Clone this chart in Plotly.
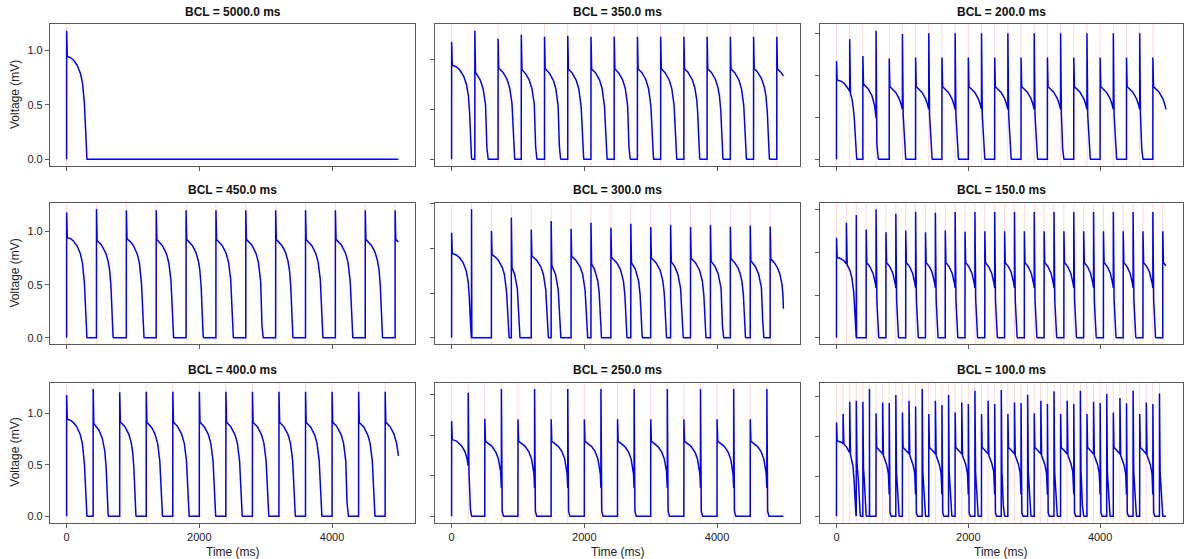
import numpy as np
import plotly.graph_objects as go

T_END = 5000.0

# ---- master action-potential shape, read from the BCL = 5000 ms trace ----
master_slow_t = [0, 40, 80, 120, 150, 180, 200, 220, 240, 255, 268]
master_slow_v = [0.945, 0.94, 0.925, 0.90, 0.875, 0.84, 0.81, 0.77, 0.71, 0.64, 0.56]
collapse_t = [0, 8, 14, 20, 27, 35, 45]
collapse_v = [0.56, 0.45, 0.30, 0.15, 0.05, 0.01, 0.0]

# ---- panels (row-major) ----
panel_bcl = [5000, 350, 200, 450, 300, 150, 400, 250, 100]

# spike tops, value after each stimulus (0 = no new AP), AP duration (ms)
peaks_5000 = [1.18]
plateau_5000 = [0.945]
apd_5000 = [310]

peaks_350 = [1.18, 1.29, 1.21, 1.25, 1.23, 1.24, 1.23, 1.23, 1.23, 1.23, 1.23, 1.23, 1.23, 1.23, 1.23]
plateau_350 = [0.945, 0.88, 0.92, 0.905, 0.915, 0.91, 0.913, 0.912, 0.913, 0.913, 0.913, 0.913, 0.913, 0.913, 0.913]
apd_350 = [310, 205, 255, 240, 248, 245, 247, 246, 246, 246, 246, 246, 246, 246, 246]

peaks_200 = [1.17, 1.43, 1.23, 1.53, 1.20, 1.49, 1.21, 1.50, 1.21, 1.50, 1.21, 1.50, 1.21,
             1.50, 1.21, 1.50, 1.21, 1.50, 1.21, 1.50, 1.21, 1.50, 1.21, 1.50, 1.21]
plateau_200 = [0.945, 0, 0.90, 0, 0.87, 0, 0.87, 0, 0.87, 0, 0.87, 0, 0.87,
               0, 0.87, 0, 0.87, 0, 0.87, 0, 0.87, 0, 0.87, 0, 0.87]
apd_200 = [310, 0, 240, 0, 255, 0, 255, 0, 255, 0, 255, 0, 255,
           0, 255, 0, 255, 0, 255, 0, 255, 0, 255, 0, 255]

peaks_450 = [1.18, 1.21, 1.20, 1.20, 1.20, 1.20, 1.20, 1.20, 1.20, 1.20, 1.20, 1.20]
plateau_450 = [0.945, 0.92, 0.934, 0.927, 0.928, 0.928, 0.928, 0.928, 0.928, 0.928, 0.928, 0.928]
apd_450 = [310, 258, 270, 266, 267, 267, 267, 267, 267, 267, 267, 267]

peaks_300 = [1.176, 1.44, 1.195, 1.345, 1.213, 1.307, 1.22, 1.288, 1.232, 1.277, 1.24,
             1.262, 1.24, 1.262, 1.243, 1.258, 1.247]
plateau_300 = [0.945, 0, 0.933, 0.80, 0.92, 0.82, 0.914, 0.835, 0.905, 0.85, 0.90,
               0.86, 0.895, 0.865, 0.89, 0.87, 0.888]
apd_300 = [305, 0, 270, 135, 262, 150, 255, 165, 250, 180, 245,
           195, 240, 205, 236, 214, 232]

peaks_150 = [1.174, 1.35, 1.44, 1.27, 1.51, 1.24, 1.457, 1.26, 1.48, 1.24, 1.468, 1.26,
             1.476, 1.245, 1.476, 1.25, 1.476, 1.25, 1.476, 1.25, 1.476, 1.25, 1.476, 1.25,
             1.476, 1.25, 1.476, 1.25, 1.476, 1.25, 1.476, 1.25, 1.476, 1.25]
plateau_150 = [0.945, 0, 0, 0.887, 0, 0.89, 0, 0.89, 0, 0.89, 0, 0.89,
               0, 0.89, 0, 0.89, 0, 0.89, 0, 0.89, 0, 0.89, 0, 0.89,
               0, 0.89, 0, 0.89, 0, 0.89, 0, 0.89, 0, 0.89]
apd_150 = [305, 0, 0, 200, 0, 200, 0, 200, 0, 200, 0, 200,
           0, 200, 0, 200, 0, 200, 0, 200, 0, 200, 0, 200,
           0, 200, 0, 200, 0, 200, 0, 200, 0, 200]

peaks_400 = [1.178, 1.236, 1.204, 1.21, 1.21, 1.21, 1.21, 1.21, 1.21, 1.21, 1.21, 1.21, 1.21]
plateau_400 = [0.945, 0.906, 0.922, 0.919, 0.919, 0.919, 0.919, 0.919, 0.919, 0.919, 0.919, 0.919, 0.919]
apd_400 = [310, 235, 252, 248, 250, 250, 250, 250, 250, 250, 250, 250, 250]

peaks_250 = [1.174, 1.52, 1.20, 1.566, 1.195, 1.566, 1.195, 1.566, 1.195, 1.566,
             1.195, 1.566, 1.195, 1.566, 1.195, 1.566, 1.195, 1.566, 1.195, 1.566]
plateau_250 = [0.945, 0, 0.927, 0, 0.927, 0, 0.927, 0, 0.927, 0,
               0.927, 0, 0.927, 0, 0.927, 0, 0.927, 0, 0.927, 0]
apd_250 = [305, 0, 283, 0, 283, 0, 283, 0, 283, 0,
           283, 0, 283, 0, 283, 0, 283, 0, 283, 0]

peaks_100 = [1.175, 1.279, 1.433, 1.446, 1.433, 1.592,
             1.29, 1.425, 1.417, 1.517,
             1.30, 1.446, 1.375, 1.592,
             1.279, 1.446, 1.392, 1.517,
             1.30, 1.425, 1.404, 1.571,
             1.279, 1.446, 1.404, 1.579,
             1.279, 1.425, 1.417, 1.521,
             1.288, 1.446, 1.404, 1.563,
             1.279, 1.446, 1.404, 1.571,
             1.279, 1.433, 1.417, 1.529,
             1.30, 1.479, 1.413, 1.571,
             1.279, 1.425, 1.404, 1.538]
plateau_100 = [0.945, 0, 0, 0.70, 0.65, 0,
               0.87, 0, 0, 0.68, 0.87, 0, 0, 0.68, 0.87, 0, 0, 0.68, 0.87, 0, 0, 0.68,
               0.87, 0, 0, 0.68, 0.87, 0, 0, 0.68, 0.87, 0, 0, 0.68, 0.87, 0, 0, 0.68,
               0.87, 0, 0, 0.68, 0.87, 0, 0, 0.68, 0.87, 0, 0, 0.68]
apd_100 = [305, 0, 0, 70, 60, 0,
           230, 0, 0, 55, 230, 0, 0, 55, 230, 0, 0, 55, 230, 0, 0, 55,
           230, 0, 0, 55, 230, 0, 0, 55, 230, 0, 0, 55, 230, 0, 0, 55,
           230, 0, 0, 55, 230, 0, 0, 55, 230, 0, 0, 55]

panel_data = {
    5000: (peaks_5000, plateau_5000, apd_5000),
    350: (peaks_350, plateau_350, apd_350),
    200: (peaks_200, plateau_200, apd_200),
    450: (peaks_450, plateau_450, apd_450),
    300: (peaks_300, plateau_300, apd_300),
    150: (peaks_150, plateau_150, apd_150),
    400: (peaks_400, plateau_400, apd_400),
    250: (peaks_250, plateau_250, apd_250),
    100: (peaks_100, plateau_100, apd_100),
}

ms_t = np.array(master_slow_t, float)
ms_v = np.array(master_slow_v, float)
cl_t = np.array(collapse_t, float)
cl_v = np.array(collapse_v, float)


def seg_value(tau, p, d):
    tau = np.atleast_1d(np.asarray(tau, float))
    if p > cl_v[0]:
        phi0 = np.interp(p, ms_v[::-1], ms_t[::-1])
        ds = max(d - cl_t[-1], 1.0)
        span = ms_t[-1] - phi0
        slow = np.interp(phi0 + np.clip(tau, 0, ds) / ds * span, ms_t, ms_v)
        fast = np.interp(tau - ds, cl_t, cl_v)
        out = np.where(tau < ds, slow, fast)
    else:
        c0 = np.interp(p, cl_v[::-1], cl_t[::-1])
        span = cl_t[-1] - c0
        out = np.interp(c0 + tau / d * span, cl_t, cl_v)
    return np.where(tau >= d, 0.0, out)


def build_trace(bcl, peaks, plateaus, apds):
    n = len(peaks)
    stims = [k * bcl for k in range(n)]
    xs, ys = [], []
    seg = None

    def val(t):
        if seg is None:
            return 0.0
        t0, p, d = seg
        return float(seg_value(t - t0, p, d)[0])

    for k in range(n):
        tk = stims[k]
        vb = val(tk)
        if plateaus[k] > 0:
            seg = (tk, plateaus[k], apds[k])
        t_next = stims[k + 1] if k + 1 < n else T_END
        t0, p, d = seg
        xs += [tk, tk + 0.6]
        ys += [vb, peaks[k]]
        t_stop = min(t_next, max(t0 + d, tk + 2.5))
        ts = np.arange(tk + 2.5, t_stop, 2.0)
        ts = np.append(ts, t_stop)
        vs = seg_value(ts - t0, p, d)
        xs += ts.tolist()
        ys += vs.tolist()
        if k == n - 1 and t_stop < T_END:
            xs.append(T_END)
            ys.append(0.0)
    return xs, ys, stims


W, H = 1184, 559
col_px = [(50, 415), (435, 800), (820, 1182.5)]
row_px = [(24.3, 165.7), (202.7, 344.3), (382.7, 522.7)]

FONT = "Liberation Sans, Arial, sans-serif"
FRAME = "#5a5a5a"

fig = go.Figure()
layout = dict(
    width=W, height=H, margin=dict(l=0, r=0, t=0, b=0),
    paper_bgcolor="white", plot_bgcolor="white", showlegend=False,
    font=dict(family=FONT, size=11, color="#222222"),
)
shapes = []
annotations = []

for i, bcl in enumerate(panel_bcl):
    r, c = divmod(i, 3)
    ax = i + 1
    xname = "x" if ax == 1 else f"x{ax}"
    yname = "y" if ax == 1 else f"y{ax}"
    peaks, plateaus, apds = panel_data[bcl]
    xs, ys, stims = build_trace(bcl, peaks, plateaus, apds)

    fig.add_trace(go.Scatter(
        x=xs, y=ys, mode="lines", xaxis=xname, yaxis=yname,
        line=dict(color="rgb(0,0,255)", width=1.5), hoverinfo="skip",
    ))
    for t in stims:
        shapes.append(dict(
            type="line", xref=xname, yref=f"{yname} domain",
            x0=t, x1=t, y0=0, y1=1, layer="below",
            line=dict(color="rgba(255,0,0,0.16)", width=1),
        ))

    vmax = max(ys)
    vmin = min(ys)
    pad = 0.05 * (vmax - vmin)
    x0p, x1p = col_px[c]
    ytp, ybp = row_px[r]
    xdom = [x0p / W, x1p / W]
    ydom = [1 - ybp / H, 1 - ytp / H]

    layout["xaxis" if ax == 1 else f"xaxis{ax}"] = dict(
        domain=xdom, anchor=yname, range=[-0.05 * T_END, 1.05 * T_END],
        tickvals=[0, 2000, 4000], ticktext=["0", "2000", "4000"] if r == 2 else ["", "", ""],
        ticks="outside", ticklen=4, tickwidth=1, tickcolor=FRAME,
        showline=True, mirror=True, linecolor=FRAME, linewidth=1.2,
        showgrid=False, zeroline=False, tickfont=dict(size=11, color="#222222"),
        fixedrange=True,
    )
    layout["yaxis" if ax == 1 else f"yaxis{ax}"] = dict(
        domain=ydom, anchor=xname, range=[vmin - pad, vmax + pad],
        tickvals=[0, 0.5, 1.0, 1.5],
        ticktext=["0.0", "0.5", "1.0", "1.5"] if c == 0 else ["", "", "", ""],
        ticks="outside", ticklen=4, tickwidth=1, tickcolor=FRAME,
        showline=True, mirror=True, linecolor=FRAME, linewidth=1.2,
        showgrid=False, zeroline=False, tickfont=dict(size=11, color="#222222"),
        fixedrange=True,
    )
    annotations.append(dict(
        text=f"<b>BCL = {float(bcl):.1f} ms</b>", xref="paper", yref="paper",
        x=(x0p + x1p) / 2 / W, y=1 - (ytp - 3.5) / H, xanchor="center", yanchor="bottom",
        showarrow=False, font=dict(size=12, color="#111111", family=FONT),
    ))
    if c == 0:
        annotations.append(dict(
            text="Voltage (mV)", xref="paper", yref="paper",
            x=15 / W, y=1 - (ytp + ybp) / 2 / H, xanchor="center", yanchor="middle",
            textangle=-90, showarrow=False, font=dict(size=12, color="#222222", family=FONT),
        ))
    if r == 2:
        annotations.append(dict(
            text="Time (ms)", xref="paper", yref="paper",
            x=(x0p + x1p) / 2 / W, y=1 - 552 / H, xanchor="center", yanchor="middle",
            showarrow=False, font=dict(size=12, color="#222222", family=FONT),
        ))

layout["shapes"] = shapes
layout["annotations"] = annotations
fig.update_layout(**layout)
fig.write_html("out.html")
